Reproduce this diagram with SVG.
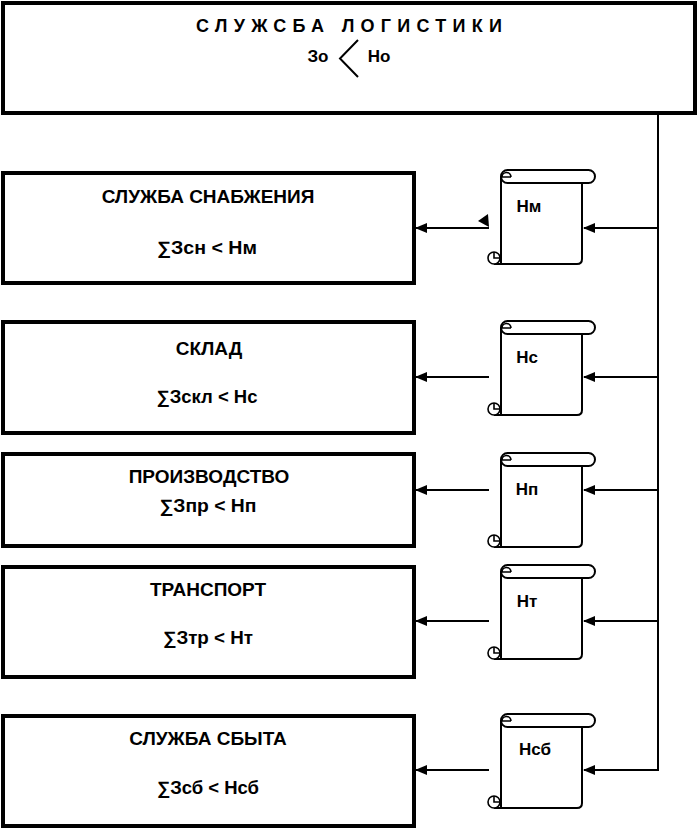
<svg xmlns="http://www.w3.org/2000/svg" width="698" height="830" viewBox="0 0 698 830">
<defs>
<marker id="ah" markerWidth="12" markerHeight="10" refX="11" refY="5" orient="auto" markerUnits="userSpaceOnUse">
<path d="M0,0 L12,5 L0,10 Z" fill="#000"/>
</marker>
<g id="scroll">
<path d="M501,6.5 V88 M582,13 V89 Q582,94 577,94 H494" fill="none" stroke="#000" stroke-width="2"/>
<rect x="501" y="0" width="94" height="13" rx="6.5" fill="#fff" stroke="#000" stroke-width="2"/>
<path d="M511,7 A4.5,4.5 0 1 0 502,7 H511" fill="none" stroke="#000" stroke-width="1.6"/>
<circle cx="494" cy="88" r="6" fill="#fff" stroke="#000" stroke-width="1.6"/>
<path d="M494,82 V88 H500" fill="none" stroke="#000" stroke-width="1.6"/>
<path d="M501,82 V94" fill="none" stroke="#000" stroke-width="2"/>
</g>
</defs>
<style>
.box{fill:#fff;stroke:#000;stroke-width:4}
.t{font-family:"Liberation Sans",Arial,"DejaVu Sans",sans-serif;font-weight:bold;fill:#000;text-anchor:middle}
.lbl{font-size:19px}
.f{font-size:18px}
.s{font-size:17px}
.ln{fill:none;stroke:#000;stroke-width:2}
</style>
<rect width="698" height="830" fill="#fff"/>

<g id="node-logistics">
<rect class="box" x="3" y="3" width="692" height="110"/>
<text class="t" x="353" y="32" font-size="18" textLength="314" lengthAdjust="spacing" letter-spacing="8">СЛУЖСБА ЛОГИСТИКИ</text>
<text class="t" x="318" y="62" font-size="17">Зо</text>
<path class="ln" d="M358,40 L340,58.5 L358,77" stroke-width="1.5"/>
<text class="t" x="379" y="62" font-size="17">Но</text>
</g>

<g id="node-supply">
<rect class="box" x="3" y="173" width="411" height="110"/>
<text class="t lbl" x="208" y="203">СЛУЖБА СНАБЖЕНИЯ</text>
<text class="t f" x="207" y="254" textLength="100" lengthAdjust="spacingAndGlyphs">∑Зсн &lt; Нм</text>
</g>
<g id="node-warehouse">
<rect class="box" x="3" y="322" width="411" height="111"/>
<text class="t lbl" x="209" y="355">СКЛАД</text>
<text class="t f" x="207" y="403" textLength="101" lengthAdjust="spacingAndGlyphs">∑Зскл &lt; Нс</text>
</g>
<g id="node-production">
<rect class="box" x="3" y="454" width="411" height="92"/>
<text class="t lbl" x="209" y="483">ПРОИЗВОДСТВО</text>
<text class="t f" x="208" y="512" textLength="97" lengthAdjust="spacingAndGlyphs">∑Зпр &lt; Нп</text>
</g>
<g id="node-transport">
<rect class="box" x="3" y="567" width="411" height="110"/>
<text class="t lbl" x="208" y="596">ТРАНСПОРТ</text>
<text class="t f" x="208" y="644" textLength="90" lengthAdjust="spacingAndGlyphs">∑Зтр &lt; Нт</text>
</g>
<g id="node-sales">
<rect class="box" x="3" y="716" width="411" height="110"/>
<text class="t lbl" x="208" y="745">СЛУЖБА СБЫТА</text>
<text class="t f" x="208" y="794" textLength="102" lengthAdjust="spacingAndGlyphs">∑Зсб &lt; Нсб</text>
</g>

<g id="doc-nm"><use href="#scroll" x="0" y="170"/><text class="t s" x="529" y="212">Нм</text></g>
<g id="doc-nc"><use href="#scroll" x="0" y="321"/><text class="t s" x="527" y="363">Нс</text></g>
<g id="doc-np"><use href="#scroll" x="0" y="453"/><text class="t s" x="527" y="495">Нп</text></g>
<g id="doc-nt"><use href="#scroll" x="0" y="565"/><text class="t s" x="527" y="607">Нт</text></g>
<g id="doc-nsb"><use href="#scroll" x="0" y="714"/><text class="t s" x="535" y="755">Нсб</text></g>

<g id="connectors">
<path class="ln" d="M658,113 V771"/>
<path class="ln" d="M658,228 H584" marker-end="url(#ah)"/>
<path class="ln" d="M658,377 H584" marker-end="url(#ah)"/>
<path class="ln" d="M658,490 H584" marker-end="url(#ah)"/>
<path class="ln" d="M658,621 H584" marker-end="url(#ah)"/>
<path class="ln" d="M659,770 H584" marker-end="url(#ah)"/>
<path class="ln" d="M489,228 H416" marker-end="url(#ah)"/>
<path class="ln" d="M489,377 H416" marker-end="url(#ah)"/>
<path class="ln" d="M489,490 H416" marker-end="url(#ah)"/>
<path class="ln" d="M489,621 H416" marker-end="url(#ah)"/>
<path class="ln" d="M489,770 H416" marker-end="url(#ah)"/>
<polygon points="478,221 488,214 489,227" fill="#000"/>
</g>
</svg>
